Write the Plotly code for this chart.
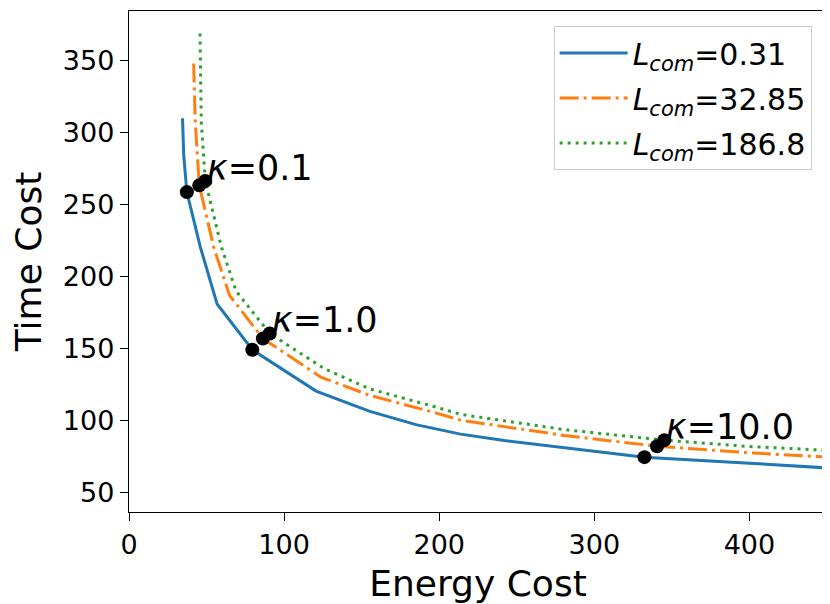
import plotly.graph_objects as go

# curve readings (energy cost, time cost)
blue_x = [34.5, 35.3, 37.3, 46.0, 56.8, 79.5, 120.6, 155.3, 185.6, 213.8, 241.9, 280.8, 332.3, 400.0, 448.6, 470.0]
blue_y = [310.0, 284.0, 258.7, 220.5, 181.0, 149.2, 120.5, 106.4, 97.0, 90.6, 86.2, 81.0, 74.6, 70.4, 66.8, 65.8]

orange_x = [41.7, 42.7, 45.3, 54.6, 64.8, 86.3, 124.0, 155.3, 200.0, 213.8, 280.8, 340.4, 400.0, 446.4, 470.0]
orange_y = [348.0, 307.6, 263.4, 220.5, 187.0, 157.0, 130.0, 117.5, 104.7, 100.3, 89.6, 82.2, 77.6, 74.6, 73.5]

green_x = [45.8, 46.6, 49.2, 59.6, 69.0, 90.7, 126.0, 155.3, 200.0, 213.8, 280.8, 345.1, 400.0, 446.4, 470.0]
green_y = [368.8, 307.6, 266.5, 220.5, 190.0, 160.5, 136.0, 122.0, 108.7, 104.3, 93.7, 86.4, 82.0, 79.3, 78.3]

series_names = ["<i>L</i><sub><i>com</i></sub>=0.31",
                "<i>L</i><sub><i>com</i></sub>=32.85",
                "<i>L</i><sub><i>com</i></sub>=186.8"]

# marked kappa points, one per series
kappa_labels = ["<i>κ</i>=0.1", "<i>κ</i>=1.0", "<i>κ</i>=10.0"]
blue_dot_x = [37.3, 79.5, 332.3]
blue_dot_y = [258.7, 149.2, 74.6]
orange_dot_x = [45.3, 86.3, 340.4]
orange_dot_y = [263.4, 157.0, 82.2]
green_dot_x = [49.2, 90.7, 345.1]
green_dot_y = [266.5, 160.5, 86.4]

FONT = "DejaVu Sans"

fig = go.Figure()
styles = [("#1f77b4", "solid"), ("#ff7f0e", "19px,5px,3px,5px"), ("#2ca02c", "3px,5px")]
curves = [(blue_x, blue_y), (orange_x, orange_y), (green_x, green_y)]
for i, ((xs, ys), (col, dash)) in enumerate(zip(curves, styles)):
    fig.add_trace(go.Scatter(x=xs, y=ys, mode="lines", name=series_names[i],
                             legendgroup=f"g{i}",
                             line=dict(color=col, width=3, dash=dash)))

for dx, dy in [(blue_dot_x, blue_dot_y), (orange_dot_x, orange_dot_y), (green_dot_x, green_dot_y)]:
    fig.add_trace(go.Scatter(x=dx, y=dy, mode="markers", showlegend=False,
                             marker=dict(color="black", size=14)))

for lab, x, y in zip(kappa_labels, green_dot_x, green_dot_y):
    fig.add_annotation(x=x, y=y, text=lab, showarrow=False, xanchor="left", yanchor="bottom",
                       xshift=0, yshift=-9, font=dict(family=FONT, size=35, color="black"))

axis_common = dict(showline=True, linecolor="black", linewidth=1.4, mirror=True,
                   ticks="outside", ticklen=8, tickwidth=1.4, tickcolor="black",
                   showgrid=False, zeroline=False,
                   tickfont=dict(family=FONT, size=27, color="black"))

fig.update_xaxes(range=[0, 450], tickvals=[0, 100, 200, 300, 400],
                 title=dict(text="Energy Cost", font=dict(family=FONT, size=36, color="black"), standoff=14),
                 **axis_common)
fig.update_yaxes(range=[36.5, 384.5], tickvals=[50, 100, 150, 200, 250, 300, 350],
                 title=dict(text="Time Cost", font=dict(family=FONT, size=36, color="black"), standoff=12),
                 **axis_common)

# page body adds 8px, so the figure is a bit smaller than the window
fig.update_layout(
    width=822, height=596,
    margin=dict(l=121, r=3, t=3, b=92, autoexpand=False),
    plot_bgcolor="white", paper_bgcolor="white",
    font=dict(family=FONT, color="black"),
    legend=dict(x=0.978, y=0.970, xanchor="right", yanchor="top",
                bgcolor="rgba(255,255,255,0.8)", bordercolor="#cccccc", borderwidth=1,
                font=dict(family=FONT, size=30, color="black"),
                traceorder="grouped", tracegroupgap=3, itemwidth=68),
)

fig.write_html("out.html")
